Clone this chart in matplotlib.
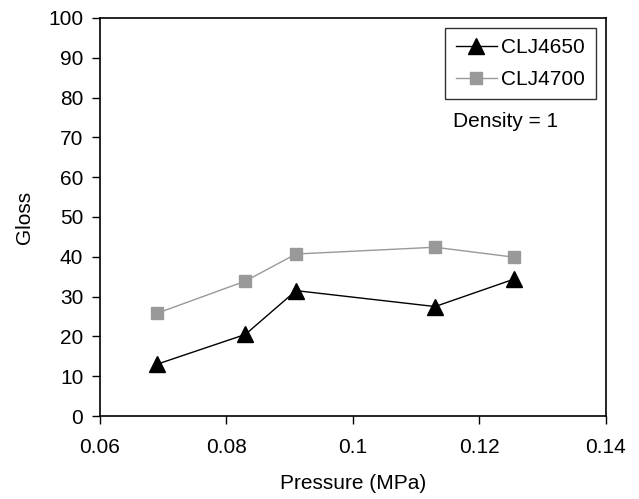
import matplotlib
matplotlib.use("Agg")
import matplotlib.pyplot as plt

# Data
pressure = [0.069, 0.083, 0.091, 0.113, 0.1255]
gloss_4650 = [13.0, 20.5, 31.5, 27.5, 34.4]
gloss_4700 = [25.8, 33.9, 40.7, 42.4, 39.9]

plt.rcParams['font.family'] = ['Liberation Sans', 'DejaVu Sans']
plt.rcParams['font.size'] = 15

fig = plt.figure(figsize=(6.39, 4.99), dpi=100)
ax = fig.add_axes([0.1565, 0.1663, 0.7915, 0.7977])

ax.plot(pressure, gloss_4650, color='black', lw=1, marker='^', ms=11,
        label='CLJ4650')
ax.plot(pressure, gloss_4700, color='#999999', lw=1, marker='s', ms=9,
        label='CLJ4700')

ax.set_xlim(0.06, 0.14)
ax.set_ylim(0, 100)
ax.set_xticks([0.06, 0.08, 0.1, 0.12, 0.14])
ax.set_xticklabels(['0.06', '0.08', '0.1', '0.12', '0.14'])
ax.set_yticks(range(0, 101, 10))
ax.tick_params(direction='out', length=6, width=1)
ax.tick_params(axis='y', pad=6)
ax.tick_params(axis='x', pad=10)
for s in ax.spines.values():
    s.set_linewidth(1.2)

ax.set_xlabel('Pressure (MPa)', labelpad=12)
ax.set_ylabel('Gloss', labelpad=10)

leg = ax.legend(loc='upper right', bbox_to_anchor=(0.98, 0.975), frameon=True,
                fancybox=False, edgecolor='black', handlelength=2.0,
                borderpad=0.5, labelspacing=0.6, handletextpad=0.2,
                borderaxespad=0, handleheight=0.7)
leg.get_frame().set_linewidth(1)
ax.text(0.697, 0.727, 'Density = 1', transform=ax.transAxes)

fig.savefig('out.png', dpi=100)
